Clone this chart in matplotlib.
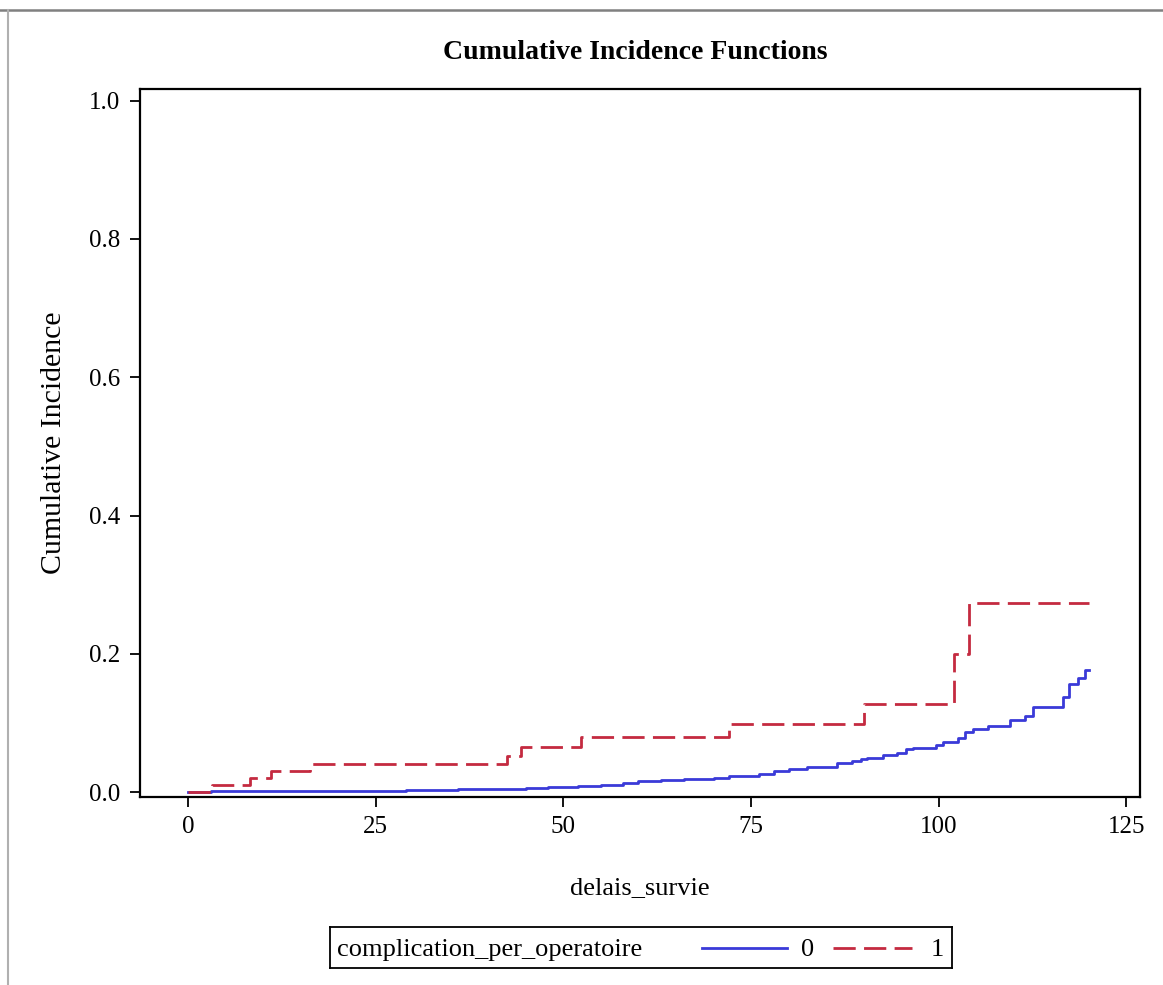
import matplotlib.pyplot as plt
from matplotlib.lines import Line2D

# cumulative incidence step values
temps_0 = [0, 3, 29, 36, 41, 45, 48, 52, 55, 58, 60, 63, 66, 70, 72, 76, 78, 80,
           82.5, 86.5, 88.5, 89.6, 90.4, 92.6, 94.5, 95.6, 96.6, 99.6, 100.6,
           102.5, 103.5, 104.5, 106.5, 109.5, 111.5, 112.5, 116.5, 117.4, 118.5,
           119.5, 120]
cif_0 = [0, 0.0015, 0.003, 0.004, 0.005, 0.006, 0.0075, 0.009, 0.0105, 0.013,
         0.0155, 0.017, 0.0185, 0.021, 0.024, 0.0265, 0.030, 0.033, 0.0357,
         0.0415, 0.045, 0.048, 0.050, 0.053, 0.057, 0.0624, 0.0643, 0.0677,
         0.0725, 0.0788, 0.0874, 0.0917, 0.096, 0.105, 0.110, 0.1225, 0.138,
         0.156, 0.165, 0.1765, 0.1765]

temps_1 = [0, 3.2, 8.3, 11.1, 16.2, 42.5, 44.3, 52.3, 72, 90, 102, 104, 120]
cif_1 = [0, 0.01, 0.02, 0.03, 0.04, 0.0525, 0.0656, 0.08, 0.098, 0.127, 0.20,
         0.274, 0.274]

xticks = [0, 25, 50, 75, 100, 125]
yticks = [0.0, 0.2, 0.4, 0.6, 0.8, 1.0]
groupes = ['0', '1']

plt.rcParams['font.family'] = ['Liberation Serif', 'DejaVu Serif']

bleu = '#3a3ad8'
rouge = '#c42a40'

fig = plt.figure(figsize=(11.63, 9.85), dpi=100)
ax = fig.add_axes([0.1204, 0.1909, 0.8598, 0.7188])

ax.step(temps_0, cif_0, where='post', color=bleu, lw=2)
ax.step(temps_1, cif_1, where='post', color=rouge, lw=2, dashes=(8, 3))

ax.set_xlim(-6.4, 126.8)
ax.set_ylim(-0.007, 1.017)
ax.set_xticks(xticks)
ax.set_yticks(yticks)
ax.set_yticklabels(['{:.1f}'.format(v) for v in yticks])
ax.tick_params(labelsize=18, length=7, width=1.3, direction='out', pad=7)
for s in ax.spines.values():
    s.set_linewidth(1.6)

ax.set_xlabel('delais_survie', fontsize=19, labelpad=28)
ax.set_ylabel('Cumulative Incidence', fontsize=21.5, labelpad=16)
fig.text(0.546, 0.947, 'Cumulative Incidence Functions', fontsize=20,
         fontweight='bold', ha='center', va='center')

# legend box drawn below the axes
lax = fig.add_axes([330 / 1163, 1 - 968 / 985, 622 / 1163, 41 / 985])
lax.set_xlim(0, 1)
lax.set_ylim(0, 1)
lax.set_xticks([])
lax.set_yticks([])
for s in lax.spines.values():
    s.set_linewidth(1.3)
lax.text(0.012, 0.45, 'complication_per_operatoire', fontsize=19, va='center')
lax.add_line(Line2D([0.598, 0.735], [0.5, 0.5], color=bleu, lw=2))
lax.text(0.768, 0.45, groupes[0], fontsize=19, va='center', ha='center')
lax.add_line(Line2D([0.809, 0.936], [0.5, 0.5], color=rouge, lw=2,
                    dashes=(8, 3)))
lax.text(0.976, 0.45, groupes[1], fontsize=19, va='center', ha='center')

# grey frame of the screenshot
fig.add_artist(Line2D([0, 1], [1 - 10 / 985, 1 - 10 / 985], color='#808080', lw=1.8))
fig.add_artist(Line2D([8 / 1163, 8 / 1163], [0, 1 - 10 / 985], color='#b0b0b0', lw=1.5))

fig.savefig('out.png', dpi=100)
